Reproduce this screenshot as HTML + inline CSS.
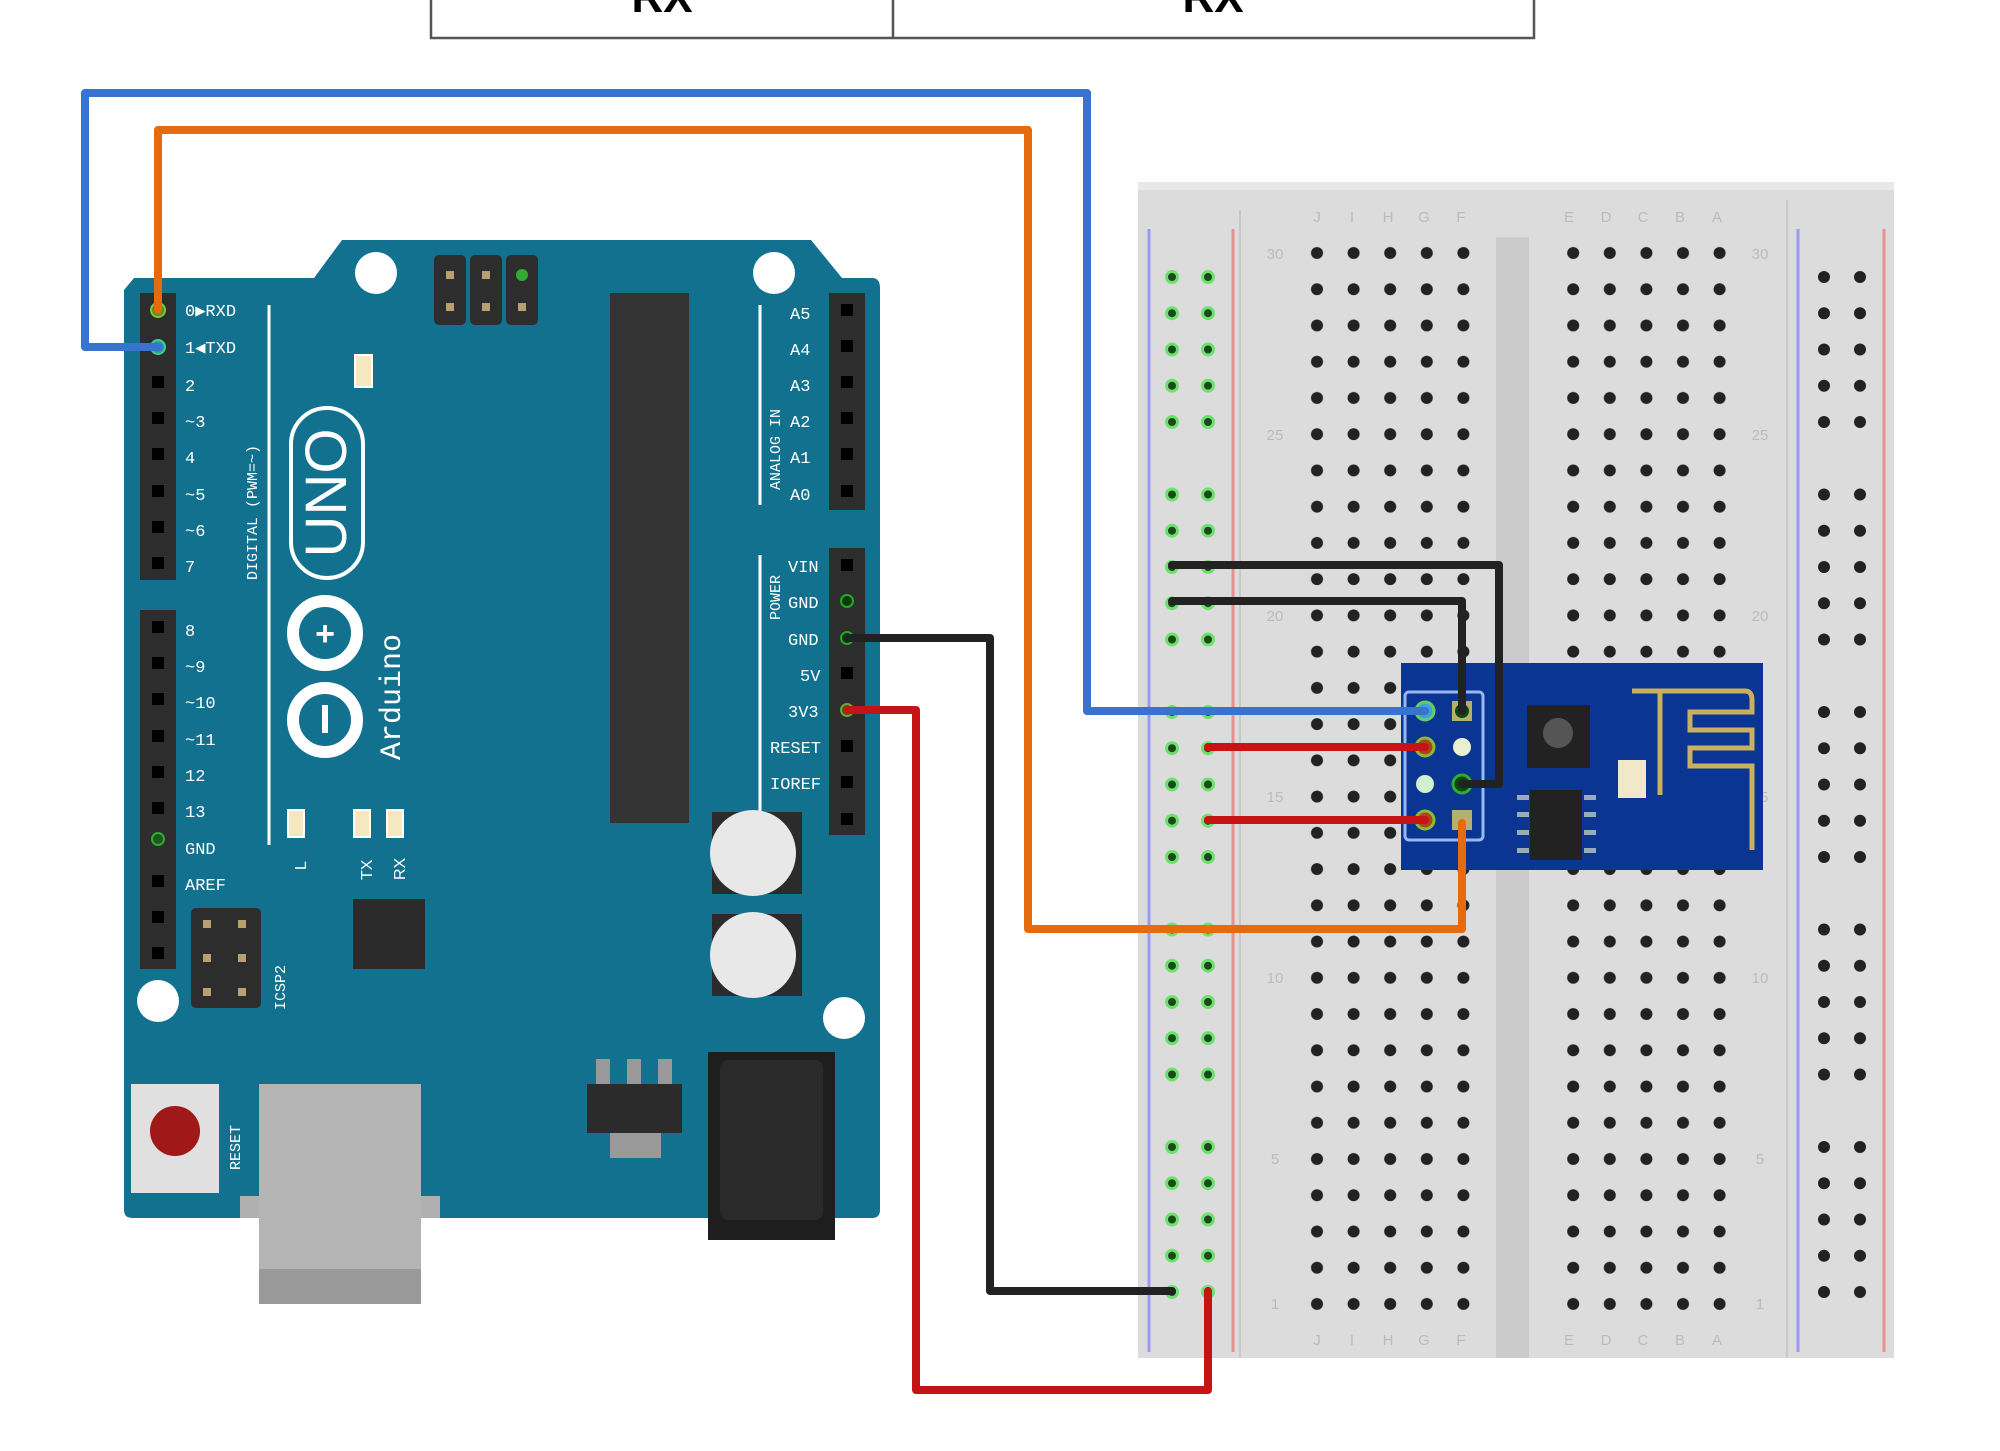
<!DOCTYPE html>
<html><head><meta charset="utf-8"><style>
html,body{margin:0;padding:0;background:#fff;width:2000px;height:1451px;overflow:hidden}
svg{display:block}
</style></head><body>
<svg width="2000" height="1451" viewBox="0 0 2000 1451" xmlns="http://www.w3.org/2000/svg" font-family="Liberation Sans, sans-serif">
<defs>
<pattern id="mh" x="1299" y="235" width="36.6" height="36.24" patternUnits="userSpaceOnUse">
<circle cx="18" cy="18" r="6" fill="#222"/></pattern>
<pattern id="rg" x="1154" y="259" width="36" height="217.5" patternUnits="userSpaceOnUse">
<g fill="#1a4a1a" stroke="#6ee06e" stroke-width="3">
<circle cx="18" cy="18" r="5.5"/><circle cx="18" cy="54.2" r="5.5"/><circle cx="18" cy="90.5" r="5.5"/><circle cx="18" cy="126.7" r="5.5"/><circle cx="18" cy="163" r="5.5"/></g></pattern>
<pattern id="rb" x="1806" y="259" width="36" height="217.5" patternUnits="userSpaceOnUse">
<g fill="#222"><circle cx="18" cy="18" r="6"/><circle cx="18" cy="54.2" r="6"/><circle cx="18" cy="90.5" r="6"/><circle cx="18" cy="126.7" r="6"/><circle cx="18" cy="163" r="6"/></g></pattern>
</defs>

<!-- table remnant -->
<rect x="431" y="-5" width="1103" height="43" fill="#fff" stroke="#555" stroke-width="2.5"/>
<line x1="893" y1="0" x2="893" y2="38" stroke="#555" stroke-width="2.5"/>
<text x="662" y="12" font-size="44" font-weight="bold" text-anchor="middle" fill="#000">RX</text>
<text x="1213" y="12" font-size="44" font-weight="bold" text-anchor="middle" fill="#000">RX</text>

<!-- breadboard -->
<rect x="1138" y="182" width="756" height="1176" fill="#dcdcdc"/>
<rect x="1138" y="182" width="756" height="8" fill="#e8e8e8"/>
<line x1="1149" y1="229" x2="1149" y2="1352" stroke="#9a9af0" stroke-width="3"/>
<line x1="1233" y1="229" x2="1233" y2="1352" stroke="#e89090" stroke-width="3"/>
<line x1="1240" y1="210" x2="1240" y2="1358" stroke="#c8c8c8" stroke-width="2"/>
<line x1="1787" y1="200" x2="1787" y2="1358" stroke="#c8c8c8" stroke-width="2"/>
<line x1="1798" y1="229" x2="1798" y2="1352" stroke="#9a9af0" stroke-width="3"/>
<line x1="1884" y1="229" x2="1884" y2="1352" stroke="#e89090" stroke-width="3"/>
<rect x="1496" y="237" width="33" height="1121" fill="#cbcbcb"/>
<rect x="1299" y="235" width="183" height="1087" fill="url(#mh)"/>
<rect x="1552" y="235" width="183" height="1087" fill="url(#mh)"/>
<rect x="1154" y="259" width="72" height="1090" fill="url(#rg)"/>
<rect x="1806" y="259" width="72" height="1090" fill="url(#rb)"/>
<g font-size="15" fill="#bbb" text-anchor="middle">
<text x="1275" y="259">30</text><text x="1275" y="440">25</text><text x="1275" y="621">20</text><text x="1275" y="802">15</text><text x="1275" y="983">10</text><text x="1275" y="1164">5</text><text x="1275" y="1309">1</text>
<text x="1760" y="259">30</text><text x="1760" y="440">25</text><text x="1760" y="621">20</text><text x="1760" y="802">15</text><text x="1760" y="983">10</text><text x="1760" y="1164">5</text><text x="1760" y="1309">1</text>
<text x="1317" y="222">J</text><text x="1352" y="222">I</text><text x="1388" y="222">H</text><text x="1424" y="222">G</text><text x="1461" y="222">F</text>
<text x="1569" y="222">E</text><text x="1606" y="222">D</text><text x="1643" y="222">C</text><text x="1680" y="222">B</text><text x="1717" y="222">A</text>
<text x="1317" y="1345">J</text><text x="1352" y="1345">I</text><text x="1388" y="1345">H</text><text x="1424" y="1345">G</text><text x="1461" y="1345">F</text>
<text x="1569" y="1345">E</text><text x="1606" y="1345">D</text><text x="1643" y="1345">C</text><text x="1680" y="1345">B</text><text x="1717" y="1345">A</text>
</g>

<!-- Arduino board -->
<path d="M134,278 L314,278 L342,240 L811,240 L842,278 L872,278 Q880,278 880,288 L880,1210 Q880,1218 872,1218 L132,1218 Q124,1218 124,1210 L124,290 Z" fill="#12718f"/>
<circle cx="376" cy="273" r="21" fill="#fff"/><circle cx="774" cy="273" r="21" fill="#fff"/>
<circle cx="158" cy="1001" r="21" fill="#fff"/><circle cx="844" cy="1018" r="21" fill="#fff"/>
<!-- left headers -->
<rect x="140" y="293" width="36" height="287" fill="#2d2d2d"/>
<rect x="140" y="610" width="36" height="359" fill="#2d2d2d"/>
<g fill="#000">
<rect x="152" y="376" width="12" height="12"/><rect x="152" y="412" width="12" height="12"/><rect x="152" y="448" width="12" height="12"/><rect x="152" y="485" width="12" height="12"/><rect x="152" y="521" width="12" height="12"/><rect x="152" y="557" width="12" height="12"/>
<rect x="152" y="621" width="12" height="12"/><rect x="152" y="657" width="12" height="12"/><rect x="152" y="693" width="12" height="12"/><rect x="152" y="730" width="12" height="12"/><rect x="152" y="766" width="12" height="12"/><rect x="152" y="802" width="12" height="12"/><rect x="152" y="875" width="12" height="12"/><rect x="152" y="911" width="12" height="12"/><rect x="152" y="947" width="12" height="12"/>
</g>
<circle cx="158" cy="839" r="6" fill="#1a5a1a" stroke="#3a3" stroke-width="2"/>
<circle cx="158" cy="310" r="7" fill="#5a8a2a" stroke="#7c3" stroke-width="2"/>
<circle cx="158" cy="347" r="7" fill="#2a9aaa" stroke="#4c8" stroke-width="2"/>
<!-- right headers -->
<rect x="829" y="293" width="36" height="217" fill="#2d2d2d"/>
<rect x="829" y="548" width="36" height="287" fill="#2d2d2d"/>
<g fill="#000">
<rect x="841" y="304" width="12" height="12"/><rect x="841" y="340" width="12" height="12"/><rect x="841" y="376" width="12" height="12"/><rect x="841" y="412" width="12" height="12"/><rect x="841" y="448" width="12" height="12"/><rect x="841" y="485" width="12" height="12"/>
<rect x="841" y="559" width="12" height="12"/><rect x="841" y="667" width="12" height="12"/><rect x="841" y="740" width="12" height="12"/><rect x="841" y="776" width="12" height="12"/><rect x="841" y="813" width="12" height="12"/>
</g>
<circle cx="847" cy="601" r="6" fill="#0a3a0a" stroke="#2a2" stroke-width="2"/>
<circle cx="847" cy="638" r="6" fill="#0a3a0a" stroke="#2a2" stroke-width="2"/>
<circle cx="847" cy="710" r="6" fill="#6a4a1a" stroke="#6a3" stroke-width="2"/>
<!-- chip -->
<rect x="610" y="293" width="79" height="530" fill="#333"/>
<!-- ICSP -->
<rect x="434" y="255" width="32" height="70" rx="5" fill="#2d2d2d"/><rect x="470" y="255" width="32" height="70" rx="5" fill="#2d2d2d"/><rect x="506" y="255" width="32" height="70" rx="5" fill="#2d2d2d"/>
<g fill="#b8a070"><rect x="446" y="271" width="8" height="8"/><rect x="482" y="271" width="8" height="8"/><rect x="446" y="303" width="8" height="8"/><rect x="482" y="303" width="8" height="8"/><rect x="518" y="303" width="8" height="8"/></g>
<circle cx="522" cy="275" r="6" fill="#3a3"/>
<rect x="355" y="355" width="17" height="32" fill="#f4e8c0" stroke="#fff" stroke-width="2"/>
<!-- labels -->
<g fill="#fff" font-family="Liberation Mono, monospace" font-size="17">
<text x="185" y="316">0▶RXD</text><text x="185" y="353">1◀TXD</text>
<text x="185" y="391">2</text><text x="185" y="427">~3</text><text x="185" y="463">4</text><text x="185" y="500">~5</text><text x="185" y="536">~6</text><text x="185" y="572">7</text>
<text x="185" y="636">8</text><text x="185" y="672">~9</text><text x="185" y="708">~10</text><text x="185" y="745">~11</text><text x="185" y="781">12</text><text x="185" y="817">13</text><text x="185" y="854">GND</text><text x="185" y="890">AREF</text>
<text x="790" y="319">A5</text><text x="790" y="355">A4</text><text x="790" y="391">A3</text><text x="790" y="427">A2</text><text x="790" y="463">A1</text><text x="790" y="500">A0</text>
<text x="788" y="572">VIN</text><text x="788" y="608">GND</text><text x="788" y="645">GND</text><text x="800" y="681">5V</text><text x="788" y="717">3V3</text><text x="770" y="753">RESET</text><text x="770" y="789">IOREF</text>
</g>
<line x1="269" y1="305" x2="269" y2="845" stroke="#fff" stroke-width="3"/>
<line x1="760" y1="305" x2="760" y2="505" stroke="#fff" stroke-width="3"/>
<line x1="760" y1="555" x2="760" y2="845" stroke="#fff" stroke-width="3"/>
<text transform="translate(257,580) rotate(-90)" fill="#fff" font-size="15" font-family="Liberation Mono, monospace">DIGITAL (PWM=~)</text>
<text transform="translate(780,490) rotate(-90)" fill="#fff" font-size="15" font-family="Liberation Mono, monospace">ANALOG IN</text>
<text transform="translate(780,620) rotate(-90)" fill="#fff" font-size="15" font-family="Liberation Mono, monospace">POWER</text>
<!-- UNO logo -->
<rect x="291" y="408" width="72" height="170" rx="36" fill="none" stroke="#fff" stroke-width="4"/>
<text transform="translate(346,493) rotate(-90)" fill="#fff" font-size="58" text-anchor="middle">UNO</text>
<circle cx="325" cy="633" r="32" fill="none" stroke="#fff" stroke-width="12"/>
<circle cx="325" cy="720" r="32" fill="none" stroke="#fff" stroke-width="12"/>
<text x="325" y="645" fill="#fff" font-size="34" font-weight="bold" text-anchor="middle">+</text>
<rect x="322" y="705" width="6" height="28" fill="#fff"/>
<text transform="translate(400,760) rotate(-90)" fill="#fff" font-size="30" font-family="Liberation Mono, monospace">Arduino</text>
<!-- LEDs -->
<rect x="288" y="810" width="16" height="27" fill="#f4e8c0" stroke="#fff" stroke-width="2"/>
<rect x="354" y="810" width="16" height="27" fill="#f4e8c0" stroke="#fff" stroke-width="2"/>
<rect x="387" y="810" width="16" height="27" fill="#f4e8c0" stroke="#fff" stroke-width="2"/>
<text transform="translate(306,870) rotate(-90)" fill="#fff" font-size="16">L</text>
<text transform="translate(372,880) rotate(-90)" fill="#fff" font-size="16">TX</text>
<text transform="translate(405,880) rotate(-90)" fill="#fff" font-size="16">RX</text>
<!-- small chip -->
<rect x="353" y="899" width="72" height="70" fill="#2b2b2b"/>
<!-- ICSP2 -->
<rect x="191" y="908" width="70" height="100" rx="5" fill="#2d2d2d"/>
<g fill="#b8a070"><rect x="203" y="920" width="8" height="8"/><rect x="238" y="920" width="8" height="8"/><rect x="203" y="954" width="8" height="8"/><rect x="238" y="954" width="8" height="8"/><rect x="203" y="988" width="8" height="8"/><rect x="238" y="988" width="8" height="8"/></g>
<text transform="translate(285,1010) rotate(-90)" fill="#fff" font-size="15" font-family="Liberation Mono, monospace">ICSP2</text>
<!-- capacitors -->
<rect x="712" y="812" width="90" height="82" fill="#2b2b2b"/>
<circle cx="753" cy="853" r="43" fill="#e8e8e8"/>
<rect x="712" y="914" width="90" height="82" fill="#2b2b2b"/>
<circle cx="753" cy="955" r="43" fill="#e8e8e8"/>
<!-- reset -->
<rect x="131" y="1084" width="88" height="109" fill="#e0e0e0"/>
<circle cx="175" cy="1131" r="25" fill="#a01818"/>
<text transform="translate(240,1170) rotate(-90)" fill="#fff" font-size="15" font-family="Liberation Mono, monospace">RESET</text>
<!-- USB -->
<rect x="240" y="1196" width="200" height="22" fill="#b0b0b0"/>
<rect x="259" y="1084" width="162" height="185" fill="#b4b4b4"/>
<rect x="259" y="1269" width="162" height="35" fill="#999"/>
<!-- regulator -->
<rect x="596" y="1059" width="14" height="26" fill="#999"/><rect x="627" y="1059" width="14" height="26" fill="#999"/><rect x="658" y="1059" width="14" height="26" fill="#999"/>
<rect x="587" y="1084" width="95" height="49" fill="#2b2b2b"/>
<rect x="610" y="1133" width="51" height="25" fill="#999"/>
<!-- jack -->
<rect x="708" y="1052" width="127" height="188" fill="#1e1e1e"/>
<rect x="720" y="1060" width="103" height="160" rx="8" fill="#2a2a2a"/>

<!-- ESP module -->
<rect x="1401" y="663" width="362" height="207" fill="#0b3592"/>
<rect x="1405" y="692" width="78" height="148" rx="4" fill="none" stroke="#9ab8f0" stroke-width="3"/>
<circle cx="1425" cy="711" r="9" fill="#3fa0e0" stroke="#6c6" stroke-width="3"/>
<rect x="1452" y="701" width="20" height="20" fill="#b6b070"/><circle cx="1462" cy="711" r="7" fill="#0a4a0a"/>
<circle cx="1425" cy="747" r="9" fill="#b04020" stroke="#8b3" stroke-width="3"/>
<circle cx="1462" cy="747" r="9" fill="#e8f0d0"/>
<circle cx="1425" cy="784" r="9" fill="#d0f0d0"/>
<circle cx="1462" cy="784" r="9" fill="#0a4a0a" stroke="#3a3" stroke-width="3"/>
<circle cx="1425" cy="820" r="9" fill="#b04020" stroke="#8b3" stroke-width="3"/>
<rect x="1452" y="810" width="20" height="20" fill="#b6b070"/>
<rect x="1527" y="705" width="63" height="63" fill="#222"/><circle cx="1558" cy="733" r="15" fill="#555"/>
<rect x="1530" y="790" width="52" height="70" fill="#222"/>
<g fill="#9ab"><rect x="1517" y="795" width="12" height="5"/><rect x="1517" y="812" width="12" height="5"/><rect x="1517" y="830" width="12" height="5"/><rect x="1517" y="848" width="12" height="5"/><rect x="1584" y="795" width="12" height="5"/><rect x="1584" y="812" width="12" height="5"/><rect x="1584" y="830" width="12" height="5"/><rect x="1584" y="848" width="12" height="5"/></g>
<rect x="1618" y="760" width="28" height="38" fill="#f0e8c8"/>
<path d="M1632,691 L1745,691 Q1752,691 1752,700 L1752,712 L1690,712 L1690,730 L1752,730 L1752,748 L1690,748 L1690,766 L1752,766 L1752,850 M1660,691 L1660,795" fill="none" stroke="#c8b060" stroke-width="5"/>

<!-- wires -->
<g fill="none" stroke-width="8" stroke-linejoin="round" stroke-linecap="round">
<polyline points="159,347 85,347 85,93 1087,93 1087,711 1425,711" stroke="#3674cf"/>
<polyline points="158,310 158,130 1028,130 1028,929 1462,929 1462,823" stroke="#e66a0e"/>
<polyline points="1172,565 1499,565 1499,784 1462,784" stroke="#222"/>
<polyline points="1172,601 1462,601 1462,711" stroke="#222"/>
<polyline points="848,638 990,638 990,1291 1172,1291" stroke="#222"/>
<polyline points="848,710 916,710 916,1390 1208,1390 1208,1291" stroke="#c41414"/>
<polyline points="1208,747 1425,747" stroke="#c41414"/>
<polyline points="1208,820 1425,820" stroke="#c41414"/>
</g>
</svg>
</body></html>
